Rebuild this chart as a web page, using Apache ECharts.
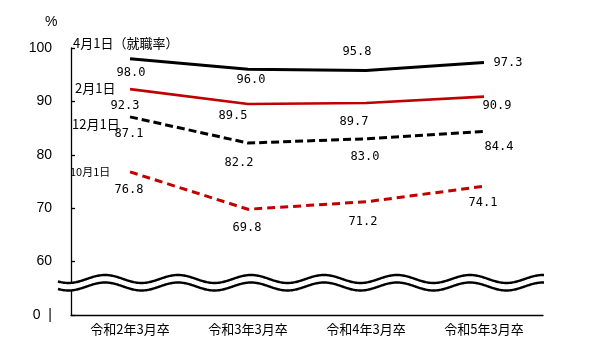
<!DOCTYPE html>
<html><head><meta charset="utf-8">
<script src="https://cdn.jsdelivr.net/npm/echarts@6/dist/echarts.min.js"></script>
<style>html,body{margin:0;padding:0;background:#fff}#c{width:604px;height:351px}</style>
</head><body><div id="c"></div>
<script>
// ---- data ----
const categories = ['令和2年3月卒', '令和3年3月卒', '令和4年3月卒', '令和5年3月卒'];
const seriesNames = ['4月1日（就職率）', '2月1日', '12月1日', '10月1日'];
const apr1 = [98.0, 96.0, 95.8, 97.3];
const feb1 = [92.3, 89.5, 89.7, 90.9];
const dec1 = [87.1, 82.2, 83.0, 84.4];
const oct1 = [76.8, 69.8, 71.2, 74.1];
const yTickLabels = { 50: '0  |', 60: '60', 70: '70', 80: '80', 90: '90', 100: '100' }; // axis break: 50 drawn as 0
const breakValue = 56.04;

// ---- layout (label offsets from points, px) ----
const offApr = [[1, 14], [3, 11], [-9, -19], [24, 0]];
const offFeb = [[-5, 17], [-15, 12], [-12, 19], [13, 9]];
const offDec = [[-1, 17], [-9, 20], [-1, 18], [15, 16]];
const offOct = [[-1, 18], [-1, 19], [-3, 20], [-1, 17]];
const nameOff = [[-57, -16, 13], [-55, -1, 13], [-58, 7, 13], [-60, 0, 11]];

const RED = '#c00000';
function mk(name, data, color, type, width, offs, z) {
  return {
    type: 'line', name: name, z: z,
    data: data.map((v, i) => ({ value: v, label: { offset: offs[i] } })),
    symbol: 'circle', symbolSize: 1,
    itemStyle: { color: 'rgba(0,0,0,0)' },
    lineStyle: { color: color, width: width, type: type, cap: 'butt' },
    label: { show: true, position: 'inside', formatter: p => Number(p.value).toFixed(1),
      color: '#000', fontFamily: 'DejaVu Sans Mono', fontSize: 12, textBorderWidth: 0 },
    emphasis: { disabled: true }, silent: true
  };
}

const chart = echarts.init(document.getElementById('c'), null, { renderer: 'canvas' });
const option = {
  animation: false,
  backgroundColor: '#fff',
  grid: { left: 71, right: 61, top: 48, bottom: 36 },
  xAxis: {
    type: 'category', data: categories, boundaryGap: true,
    axisLine: { lineStyle: { color: '#000', width: 1.3 } },
    axisTick: { show: false },
    axisLabel: { color: '#000', fontSize: 13, fontFamily: 'Noto Sans CJK JP', margin: 8 }
  },
  yAxis: {
    type: 'value', min: 50, max: 100, interval: 10,
    splitLine: { show: false },
    axisLine: { show: true, lineStyle: { color: '#000', width: 1.3 } },
    axisTick: { show: true, inside: true, length: 4, lineStyle: { color: '#000', width: 1.3 } },
    axisLabel: { color: '#000', fontSize: 14, fontFamily: 'Liberation Sans', margin: 19,
      formatter: v => yTickLabels[v] !== undefined ? yTickLabels[v] : '' }
  },
  series: [
    mk(seriesNames[3], oct1, RED, [8, 5], 3, offOct, 2),
    mk(seriesNames[2], dec1, '#000', [8, 4], 3, offDec, 3),
    mk(seriesNames[1], feb1, RED, 'solid', 2.6, offFeb, 4),
    mk(seriesNames[0], apr1, '#000', 'solid', 3, offApr, 5)
  ]
};
chart.setOption(option);

// ---- decorations: axis break, unit, series names ----
const px = (i, v) => chart.convertToPixel({ gridIndex: 0 }, [i, v]);
const bw = px(1, 50)[0] - px(0, 50)[0];
const x0 = px(0, 50)[0] - bw / 2 - 13;
const x1 = px(3, 50)[0] + bw / 2 + 1;
const yc = px(0, breakValue)[1];
const up = [], lo = [];
for (let x = x0; x <= x1; x += 1) {
  const w = -4 * Math.cos(2 * Math.PI * (x - (x0 + 47)) / 73);
  up.push([x, yc - 3.75 + w]);
  lo.push([x, yc + 3.75 + w]);
}
const poly = up.concat(lo.slice().reverse());
const allSeries = [apr1, feb1, dec1, oct1];
const graphics = [
  { type: 'polygon', z: 100, shape: { points: poly }, style: { fill: '#fff', stroke: null } },
  { type: 'polyline', z: 101, shape: { points: up }, style: { stroke: '#000', lineWidth: 2.4, fill: null } },
  { type: 'polyline', z: 101, shape: { points: lo }, style: { stroke: '#000', lineWidth: 2.4, fill: null } },
  { type: 'text', z: 101, x: 45, y: 15, style: { text: '%', fill: '#000', font: '14px "Liberation Sans"' } }
];
seriesNames.forEach((n, k) => {
  const p = px(0, allSeries[k][0]);
  const o = nameOff[k];
  graphics.push({ type: 'text', z: 101, x: p[0] + o[0], y: p[1] + o[1],
    style: { text: n, fill: '#000', font: o[2] + 'px "Noto Sans CJK JP"', textAlign: 'left', textVerticalAlign: 'middle' } });
});
chart.setOption({ graphic: graphics });
</script>
</body></html>
